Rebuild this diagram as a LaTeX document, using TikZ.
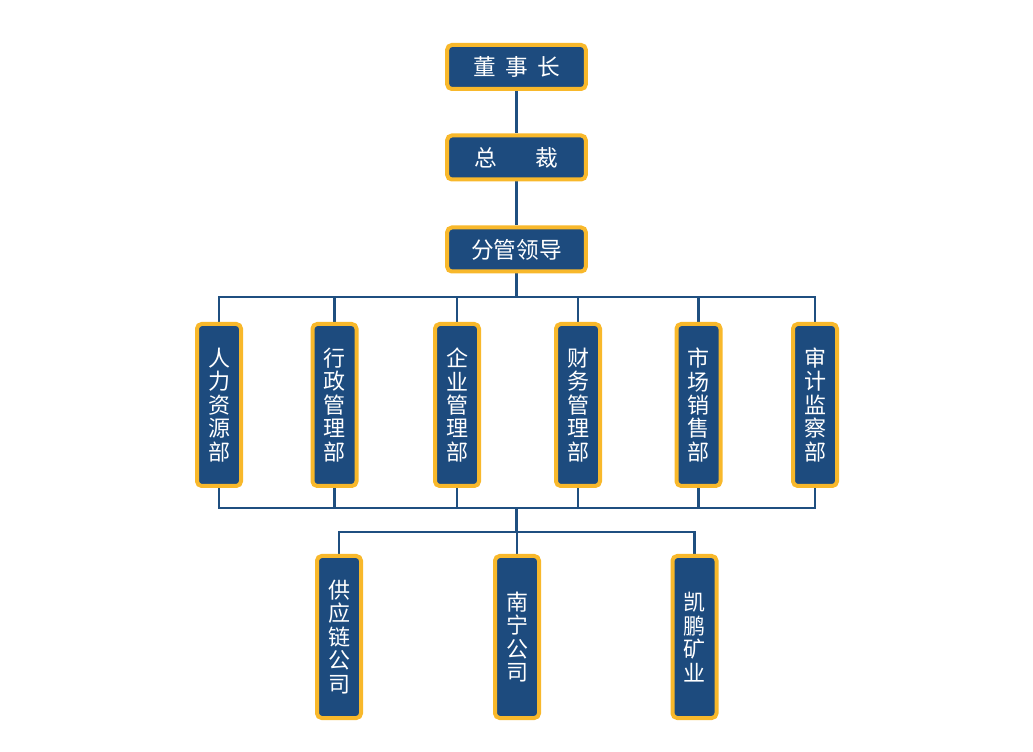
\documentclass[tikz,border=0pt]{standalone}
\usepackage{fontspec}
\newfontfamily\cjk{Noto Sans CJK SC}
\usetikzlibrary{backgrounds}
\definecolor{boxblue}{HTML}{1D4B7E}
\definecolor{boxgold}{HTML}{F8B82B}
\definecolor{linkblue}{HTML}{1F4F80}
\tikzset{
  hbox/.style={draw=boxgold, fill=boxblue, line width=3pt, rounded corners=3.5pt,
    minimum width=104pt, minimum height=33pt, inner sep=0pt, text=white,
    font=\cjk\fontsize{17}{20}\selectfont},
  vbox/.style={draw=boxgold, fill=boxblue, line width=3pt, rounded corners=3.5pt,
    minimum width=33pt, minimum height=121.5pt, inner sep=0pt, text=white, align=center,
    font=\cjk\fontsize{16.5}{17.6}\selectfont},
  link/.style={draw=linkblue, line width=2pt}
}
\begin{document}
\begin{tikzpicture}[x=0.75pt, y=-0.75pt]
\useasboundingbox (0,0) rectangle (1033,752);
% top chain
\node[hbox] (dong) at (516.5,67) {董\hspace{7pt}事\hspace{7pt}长};
\node[hbox] (zong) at (516.5,157.5) {总\hspace{29pt}裁};
\node[hbox] (fen) at (516.5,249.5) {分管领导};
% departments
\node[vbox] (d1) at (219,405) {人\\力\\资\\源\\部};
\node[vbox] (d2) at (334.5,405) {行\\政\\管\\理\\部};
\node[vbox] (d3) at (457,405) {企\\业\\管\\理\\部};
\node[vbox] (d4) at (578,405) {财\\务\\管\\理\\部};
\node[vbox] (d5) at (698.5,405) {市\\场\\销\\售\\部};
\node[vbox] (d6) at (815,405) {审\\计\\监\\察\\部};
% companies
\node[vbox] (c1) at (339,637) {供\\应\\链\\公\\司};
\node[vbox] (c2) at (517,637) {南\\宁\\公\\司};
\node[vbox] (c3) at (694.5,637) {凯\\鹏\\矿\\业};
\coordinate (bt) at (516.5,297);
\coordinate (bb) at (516.5,508);
\coordinate (bc) at (516.5,532);
\begin{scope}[on background layer]
\draw[link] (dong) -- (zong);
\draw[link] (zong) -- (fen);
\draw[link] (fen.south) -- (bt);
\draw[link] (d1.north) -- (d1.north |- bt) -- (d6.north |- bt) -- (d6.north);
\foreach \n in {d2,d3,d4,d5} \draw[link] (\n.north) -- (\n.north |- bt);
\draw[link] (d1.south) -- (d1.south |- bb) -- (d6.south |- bb) -- (d6.south);
\foreach \n in {d2,d3,d4,d5} \draw[link] (\n.south) -- (\n.south |- bb);
\draw[link] (bb) -- (bc);
\draw[link] (c1.north) -- (c1.north |- bc) -- (c3.north |- bc) -- (c3.north);
\draw[link] (c2.north) -- (c2.north |- bc);
\end{scope}
\end{tikzpicture}
\end{document}
